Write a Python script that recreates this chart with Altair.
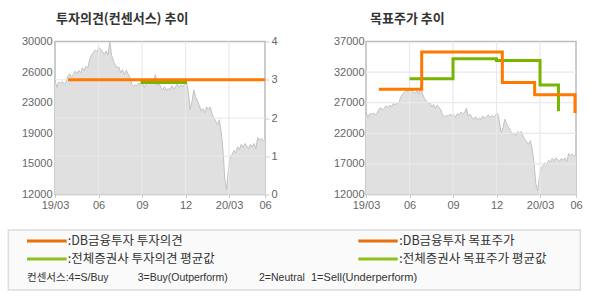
import altair as alt
import pandas as pd

# ---------------- data ----------------
MONTH_SPAN = 14.48  # months from 19/03 to the right edge of the axis

PRICE = [
    25500, 24600, 25200, 25100, 25300, 25000, 25200, 25900, 26200, 25800,
    26100, 26500, 26200, 26600, 26300, 26900, 26600, 27100, 26900, 27900,
    28400, 28700, 29000, 28800, 29300, 29100, 28800, 28500, 28900, 28400,
    30000, 28400, 27700, 27300, 26900, 27000, 26300, 26700, 26100, 26600,
    26200, 25800, 25000, 24700, 24900, 24800, 25100, 24900, 25000, 24600,
    25200, 25000, 25500, 25200, 25400, 26100, 24800, 25100, 24600, 24300,
    24700, 24200, 24500, 24300, 24800, 24400, 24700, 25000, 24600, 24900,
    24700, 25000, 25300, 24100, 22000, 22900, 24300, 23500, 23000, 22500,
    21800, 22100, 21600, 22300, 22000, 22300, 21500, 21000, 20600, 20200,
    20800, 19400, 17200, 13800, 12600, 15000, 16400, 16700, 17200, 16900,
    17600, 17300, 17900, 17500, 18000, 17700, 17400, 17900, 17600, 18000,
    17400, 18700, 18400, 18600, 18300, 18500,
]
T_PRICE = [round(i * MONTH_SPAN / (len(PRICE) - 1), 4) for i in range(len(PRICE))]

X_TICKS = [0, 3, 6, 9, 12, 14.48]
X_LABELS = ["19/03", "06", "09", "12", "20/03", "06"]
V_GRID = [3, 6, 9, 12]

L_PRICE_TICKS = [12000, 15600, 19200, 22800, 26400, 30000]
L_PRICE_LABELS = ["12000", "15000", "19000", "23000", "26000", "30000"]
OP_TICKS = [0, 1, 2, 3, 4]
OP_GRID = [1, 2, 3]

R_PRICE_TICKS = [12000, 17000, 22000, 27000, 32000, 37000]
R_GRID = [17000, 22000, 27000, 32000]

# investment opinion (consensus)
OP_DB_T = [0.9, 14.48]
OP_DB_V = [3.0, 3.0]
OP_AVG_T = [6.0, 6.0, 9.0]
OP_AVG_V = [3.0, 2.93, 3.0]

# target price
TP_DB_T = [0.88, 3.84, 9.4, 11.63, 14.41]
TP_DB_V = [29200, 35300, 30300, 28300, 25300]
TP_AVG_T = [3.0, 6.0, 9.0, 12.0, 13.27]
TP_AVG_V = [30900, 34200, 33900, 29900, 25600]

TITLE_L = "투자의견(컨센서스) 추이"
TITLE_R = "목표주가 추이"
LEG_L1 = ":DB금융투자 투자의견"
LEG_L2 = ":전체증권사 투자의견 평균값"
LEG_R1 = ":DB금융투자 목표주가"
LEG_R2 = ":전체증권사 목표주가 평균값"
CONSENSUS = ["컨센서스:4=S/Buy", "3=Buy(Outperform)", "2=Neutral", "1=Sell(Underperform)"]

# ---------------- style ----------------
ORANGE = "#ff7800"
GREEN = "#78b400"
LEG_ORANGE = "#e8700a"
LEG_GREEN = "#8cc21a"
AREA = "#e0e0e0"
AREA_LINE = "#c2c2c2"
GRID = "#e9e9e9"
BORDER = "#bcbcbc"
LABEL = "#666666"
KFONT = "Noto Sans CJK KR"
NFONT = "Liberation Sans"
MIXFONT = "'Liberation Sans', 'Noto Sans CJK KR'"

W, H = 210, 153
ORIGIN_X = 54      # left edge of the left plot area (page px)
LEG_TOP = 229      # top of the legend box (page px)


def label_expr(ticks, labels):
    expr = "''"
    for v, l in reversed(list(zip(ticks, labels))):
        expr = f"datum.value == {v} ? '{l}' : ({expr})"
    return expr


price_df = pd.DataFrame({"t": T_PRICE, "p": PRICE})
vgrid_df = pd.DataFrame({"t": V_GRID})

x_scale = alt.Scale(domain=[0, MONTH_SPAN], nice=False, zero=False)
x_axis = alt.Axis(values=X_TICKS, labelExpr=label_expr(X_TICKS, X_LABELS),
                  labelFlush=False, labelOverlap=False, grid=False, domain=False,
                  ticks=True, tickSize=3, tickColor="#cccccc", labelPadding=2,
                  minExtent=20, maxExtent=20, title=None)
X = alt.X("t:Q", scale=x_scale, axis=x_axis, title=None)

# ---------------- left chart: opinion ----------------
lp_scale = alt.Scale(domain=[12000, 30000], nice=False, zero=False)
op_scale = alt.Scale(domain=[0, 4], nice=False, zero=False)
lp_axis = alt.Axis(orient="left", values=L_PRICE_TICKS,
                   labelExpr=label_expr(L_PRICE_TICKS, L_PRICE_LABELS),
                   grid=False, domain=False, ticks=False, labelPadding=3,
                   minExtent=54, maxExtent=54, title=None)
op_axis = alt.Axis(orient="right", values=OP_TICKS, format="d", grid=False,
                   domain=False, ticks=True, tickSize=4, tickColor="#cccccc",
                   labelPadding=2, minExtent=20, maxExtent=20, title=None)

l_area = alt.Chart(price_df).mark_area(color=AREA).encode(
    x=X, y=alt.Y("p:Q", scale=lp_scale, axis=lp_axis, title=None), y2=alt.datum(12000))
l_line = alt.Chart(price_df).mark_line(color=AREA_LINE, strokeWidth=1).encode(
    x=X, y=alt.Y("p:Q", scale=lp_scale, axis=None))
l_vgrid = alt.Chart(vgrid_df).mark_rule(color=GRID, strokeWidth=1.2).encode(x=X)
l_hgrid = alt.Chart(pd.DataFrame({"o": OP_GRID})).mark_rule(color=GRID, strokeWidth=1.2).encode(
    y=alt.Y("o:Q", scale=op_scale, axis=None))
l_db = alt.Chart(pd.DataFrame({"t": OP_DB_T, "o": OP_DB_V})).mark_line(
    color=ORANGE, strokeWidth=3).encode(
    x=X, y=alt.Y("o:Q", scale=op_scale, axis=op_axis, title=None))
l_avg = alt.Chart(pd.DataFrame({"t": OP_AVG_T, "o": OP_AVG_V})).mark_line(
    color=GREEN, strokeWidth=3, interpolate="step-after").encode(
    x=X, y=alt.Y("o:Q", scale=op_scale, axis=None))

left = alt.layer(l_area, l_line, l_vgrid, l_hgrid, l_avg, l_db).resolve_scale(
    y="independent").properties(
    width=W, height=H,
    title=alt.TitleParams(TITLE_L, anchor="start", frame="group", dx=1, offset=10,
                          font=KFONT, fontSize=13, fontWeight="bold", color="#333333"))

# ---------------- right chart: target price ----------------
rp_scale = alt.Scale(domain=[12000, 37000], nice=False, zero=False)
rp_axis = alt.Axis(orient="left", values=R_PRICE_TICKS, format="d", grid=False,
                   domain=False, ticks=False, labelPadding=2,
                   minExtent=69, maxExtent=69, title=None)


def RY(field):
    return alt.Y(f"{field}:Q", scale=rp_scale, axis=rp_axis, title=None)


r_area = alt.Chart(price_df).mark_area(color=AREA).encode(x=X, y=RY("p"), y2=alt.datum(12000))
r_line = alt.Chart(price_df).mark_line(color=AREA_LINE, strokeWidth=1).encode(x=X, y=RY("p"))
r_vgrid = alt.Chart(vgrid_df).mark_rule(color=GRID, strokeWidth=1.2).encode(x=X)
r_hgrid = alt.Chart(pd.DataFrame({"p": R_GRID})).mark_rule(color=GRID, strokeWidth=1.2).encode(y=RY("p"))
r_avg = alt.Chart(pd.DataFrame({"t": TP_AVG_T, "p": TP_AVG_V})).mark_line(
    color=GREEN, strokeWidth=3, interpolate="step-after").encode(x=X, y=RY("p"))
r_db = alt.Chart(pd.DataFrame({"t": TP_DB_T, "p": TP_DB_V})).mark_line(
    color=ORANGE, strokeWidth=3, interpolate="step-after").encode(x=X, y=RY("p"))

right = alt.layer(r_area, r_line, r_vgrid, r_hgrid, r_avg, r_db).properties(
    width=W, height=H,
    title=alt.TitleParams(TITLE_R, anchor="start", frame="group", dx=4, offset=10,
                          font=KFONT, fontSize=13, fontWeight="bold", color="#333333"))

top = alt.hconcat(left, right, spacing=10)

# ---------------- legend box ----------------
ONE = pd.DataFrame({"k": [0]})


def px(x):
    """page x -> legend-view x (the legend view origin is aligned with the left plot)."""
    return x - ORIGIN_X


def py(y):
    return y - LEG_TOP


def seg(color, x1, x2, y):
    return alt.Chart(ONE).mark_rule(color=color, strokeWidth=3).encode(
        x=alt.value(px(x1)), x2=alt.value(px(x2)), y=alt.value(py(y)))


def txt(s, x, y, size=12.5, font=KFONT):
    return alt.Chart(ONE).mark_text(text=s, align="left", baseline="middle", font=font,
                                    fontSize=size, color="#333333").encode(
        x=alt.value(px(x)), y=alt.value(py(y)))


box = alt.Chart(ONE).mark_rect(fill="#fafafa", stroke="#dddddd", strokeWidth=1.5).encode(
    x=alt.value(px(7.3)), x2=alt.value(px(579.3)), y=alt.value(0), y2=alt.value(60))

legend = alt.layer(
    box,
    seg(LEG_ORANGE, 26, 65.7, 240), txt(LEG_L1, 66.7, 240),
    seg(LEG_GREEN, 26, 65.7, 258), txt(LEG_L2, 66.7, 258),
    seg(LEG_ORANGE, 357.3, 396.7, 240), txt(LEG_R1, 398.3, 240),
    seg(LEG_GREEN, 357.3, 396.7, 258), txt(LEG_R2, 398.3, 258),
    txt(CONSENSUS[0], 26, 276.7, 10.5, MIXFONT), txt(CONSENSUS[1], 136.7, 276.7, 10.5, MIXFONT),
    txt(CONSENSUS[2], 258, 276.7, 10.5, MIXFONT), txt(CONSENSUS[3], 310, 276.7, 11, MIXFONT),
).properties(width=500, height=60,
             view=alt.ViewBackground(stroke="transparent", fill="transparent"))

chart = alt.vconcat(top, legend, spacing=12.5).properties(
    padding={"left": 0, "top": 11.5, "right": 0, "bottom": 0},
    background="white",
).configure_view(stroke=BORDER, strokeWidth=1.5).configure_axis(
    labelFont=NFONT, labelFontSize=11, labelColor=LABEL)

chart.save("out.html", embed_options={"renderer": "svg", "actions": False})
